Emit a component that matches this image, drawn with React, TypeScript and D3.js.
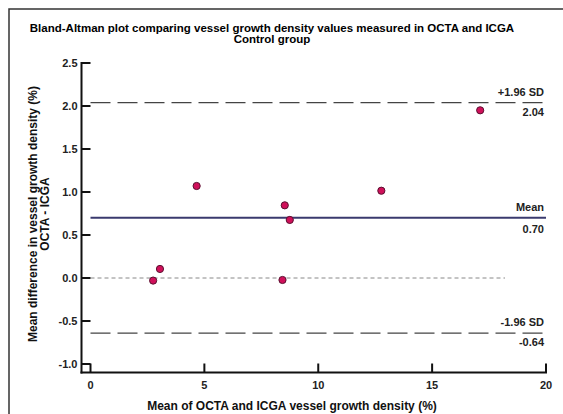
import React from "react";
import * as d3 from "d3";

const meanX = [2.75, 3.05, 4.66, 8.53, 8.75, 8.43, 12.77, 17.11];
const diffY = [-0.03, 0.105, 1.07, 0.845, 0.675, -0.023, 1.015, 1.95];
const xTicks = [0, 5, 10, 15, 20];
const yTicks = [-1.0, -0.5, 0.0, 0.5, 1.0, 1.5, 2.0, 2.5];
const meanDiff = 0.70;
const upperLoA = 2.04;
const lowerLoA = -0.64;
const titleLines = [
  "Bland-Altman plot comparing vessel growth density values measured in OCTA and ICGA",
  "Control group",
];
const yTitleLines = ["Mean difference in vessel growth density (%)", "OCTA - ICGA"];
const xTitle = "Mean of OCTA and ICGA vessel growth density (%)";

export default function App() {
  const W = 563, H = 414;
  const x = d3.scaleLinear().domain([0, 20]).range([90.5, 546]);
  const y = d3.scaleLinear().domain([-1, 2.5]).range([364, 63]);
  const axisX = 81.5;
  const axisY = 372.5;
  const font = "Liberation Sans, Arial, sans-serif";
  const lineEnd = x(20);
  return (
    <svg width={W} height={H} style={{ position: "absolute", left: 0, top: 0, background: "#fff" }} fontFamily={font}>
      <rect x={9} y={9} width={W + 20} height={H + 20} fill="#fff" stroke="#333" strokeWidth={1.5} />
      {titleLines.map((t, i) => (
        <text key={i} x={272} y={32 + i * 11} textAnchor="middle" fontSize={11.5} fontWeight="bold">{t}</text>
      ))}
      {/* reference lines */}
      <line x1={x(0)} x2={x(18.2)} y1={y(0)} y2={y(0)} stroke="#888" strokeWidth={1} strokeDasharray="4,3" />
      <line x1={x(0)} x2={lineEnd} y1={y(upperLoA)} y2={y(upperLoA)} stroke="#444" strokeWidth={1.2} strokeDasharray="20,7" />
      <line x1={x(0)} x2={lineEnd} y1={y(lowerLoA)} y2={y(lowerLoA)} stroke="#444" strokeWidth={1.2} strokeDasharray="20,7" />
      <line x1={x(0)} x2={lineEnd} y1={y(meanDiff)} y2={y(meanDiff)} stroke="#3a3a6e" strokeWidth={2} />
      {/* line labels */}
      <g fontSize={11} fontWeight="bold" textAnchor="end" fill="#222">
        <text x={544} y={y(upperLoA) - 7}>+1.96 SD</text>
        <text x={544} y={y(upperLoA) + 13}>{upperLoA.toFixed(2)}</text>
        <text x={544} y={y(meanDiff) - 7}>Mean</text>
        <text x={544} y={y(meanDiff) + 15}>{meanDiff.toFixed(2)}</text>
        <text x={544} y={y(lowerLoA) - 7}>-1.96 SD</text>
        <text x={544} y={y(lowerLoA) + 13}>{lowerLoA.toFixed(2)}</text>
      </g>
      {/* axes */}
      <line x1={axisX} x2={axisX} y1={y(2.5) - 1} y2={axisY + 1} stroke="#111" strokeWidth={2} />
      <line x1={axisX - 1} x2={x(20) + 1} y1={axisY} y2={axisY} stroke="#111" strokeWidth={2} />
      {yTicks.map((t) => (
        <g key={t}>
          <line x1={axisX} x2={axisX + 9} y1={y(t)} y2={y(t)} stroke="#111" strokeWidth={2} />
          <text x={axisX - 4} y={y(t) + 4} textAnchor="end" fontSize={11} fontWeight="bold" fill="#222">{t.toFixed(1)}</text>
        </g>
      ))}
      {xTicks.map((t) => (
        <g key={t}>
          <line x1={x(t)} x2={x(t)} y1={axisY} y2={axisY - 9} stroke="#111" strokeWidth={2} />
          <text x={x(t)} y={axisY + 16} textAnchor="middle" fontSize={11} fontWeight="bold" fill="#222">{t}</text>
        </g>
      ))}
      {/* points */}
      {meanX.map((mx, i) => (
        <circle key={i} cx={x(mx)} cy={y(diffY[i])} r={3.6} fill="#d0105a" stroke="#5a1030" strokeWidth={1} />
      ))}
      {/* axis titles */}
      <text x={292} y={410} textAnchor="middle" fontSize={12} fontWeight="bold" fill="#111">{xTitle}</text>
      {yTitleLines.map((t, i) => (
        <text key={i} transform={`translate(${37 + i * 12},214) rotate(-90)`} textAnchor="middle" fontSize={12} fontWeight="bold" fill="#111">{t}</text>
      ))}
    </svg>
  );
}
